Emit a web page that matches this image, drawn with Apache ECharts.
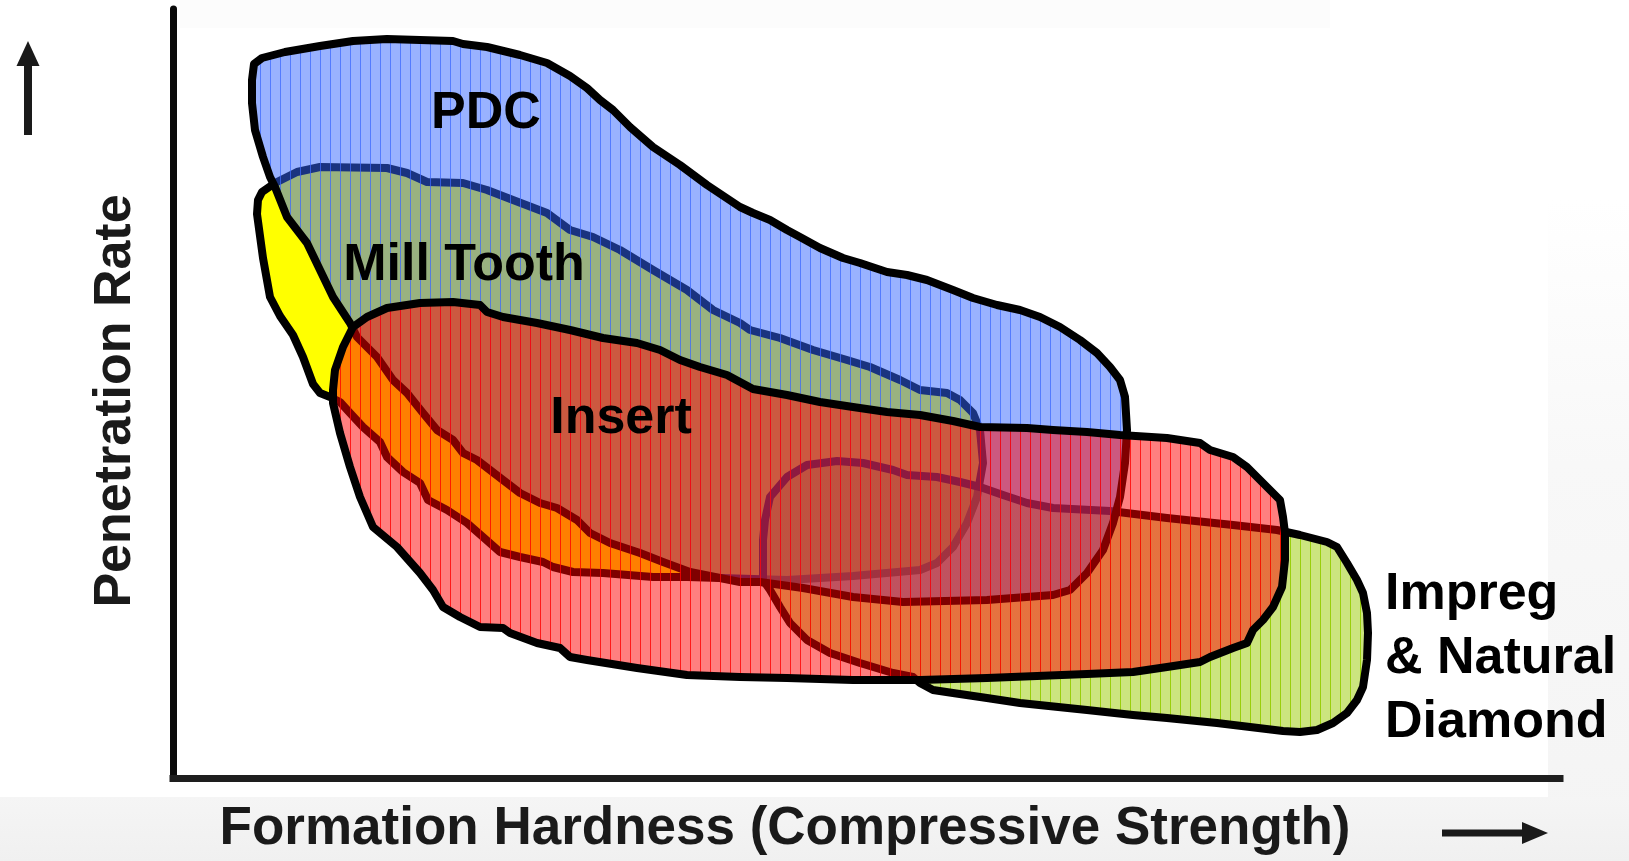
<!DOCTYPE html>
<html>
<head>
<meta charset="utf-8">
<title>Bit Type Selection: Penetration Rate vs Formation Hardness</title>
<script src="https://cdn.jsdelivr.net/npm/echarts@6/dist/echarts.min.js"></script>
<style>
  html, body { margin: 0; padding: 0; background: #ffffff; }
  #chart { width: 1629px; height: 861px; }
</style>
</head>
<body>
<div id="chart"></div>
<script>
// Operating envelopes of each bit family, as [hardness, penetration rate] outline points
// (arbitrary relative units: hardness 0..138.7, rate 0..76.9).
const millToothOutline = [
  [8.9,58.6],[10.2,59.5],[12.4,60.6],[14.7,61.1],[21.4,61.0],[23.4,60.5],[25.4,59.6],[29.0,59.5],
  [31.4,58.8],[34.0,57.8],[37.4,56.5],[39.7,54.8],[42.0,54.1],[44.7,52.8],[48.0,50.8],[51.4,48.8],
  [54.0,46.8],[56.7,45.5],[57.7,44.8],[60.7,44.0],[64.0,42.8],[67.4,41.8],[69.7,41.1],[72.7,39.8],
  [74.7,38.8],[77.4,38.5],[78.7,37.8],[80.0,36.5],[80.7,34.8],[81.0,31.5],[80.4,28.1],[79.4,25.5],
  [78.0,23.1],[76.4,21.5],[74.7,20.8],[68.0,20.2],[61.4,19.8],[54.7,20.0],[51.4,20.1],[48.0,20.1],
  [43.0,20.5],[40.0,20.6],[38.0,21.1],[37.0,21.6],[34.7,22.1],[32.7,22.6],[31.0,24.1],[29.4,25.5],
  [27.4,26.8],[25.5,27.8],[24.7,29.5],[23.0,30.6],[21.4,32.1],[20.7,33.6],[19.0,35.1],[17.7,36.5],
  [16.7,37.6],[15.7,38.1],[14.7,38.5],[14.0,39.4],[13.0,42.1],[12.0,44.3],[10.7,46.2],[9.7,48.1],
  [9.0,52.0],[8.4,56.4],[8.5,57.8]
];

const impregOutline = [
  [59.0,19.8],[59.0,23.8],[59.2,25.8],[59.7,28.1],[61.4,30.1],[63.4,31.3],[66.4,31.7],[69.0,31.5],
  [72.0,30.8],[73.4,30.3],[76.4,30.1],[78.7,29.6],[80.7,29.1],[83.0,28.3],[85.4,27.5],[88.0,27.0],
  [93.7,26.7],[99.4,26.0],[106.0,25.3],[110.4,24.8],[112.7,24.3],[115.4,23.6],[116.4,23.1],[117.4,21.5],
  [118.4,19.8],[119.0,18.5],[119.4,16.5],[119.5,14.5],[119.4,11.8],[119.0,9.1],[118.4,7.8],[117.4,6.5],
  [116.0,5.5],[114.4,4.8],[112.7,4.6],[111.0,4.7],[107.7,5.1],[104.4,5.5],[99.4,6.0],[96.0,6.3],
  [91.4,6.8],[84.7,7.5],[81.4,8.0],[78.0,8.5],[76.0,8.8],[74.7,9.5],[74.0,10.1],[72.0,10.5],
  [68.7,11.5],[65.7,12.5],[63.4,13.8],[61.7,15.5],[60.7,17.1],[59.7,18.8]
];

const pdcOutline = [
  [8.1,71.4],[8.9,72.0],[11.2,72.6],[14.7,73.2],[18.0,73.7],[21.4,73.9],[24.7,73.8],[28.0,73.7],
  [29.0,73.4],[31.4,73.1],[34.7,72.3],[37.4,71.5],[39.7,70.2],[41.4,69.0],[42.7,67.8],[44.0,66.8],
  [45.7,65.1],[48.0,63.1],[50.7,61.3],[53.4,59.3],[56.7,57.1],[58.0,56.5],[59.7,55.8],[61.4,54.8],
  [62.7,54.1],[64.7,53.0],[67.0,52.0],[68.7,51.5],[71.4,50.6],[73.4,50.3],[75.4,49.8],[78.0,48.8],
  [80.0,48.0],[82.4,47.3],[84.7,46.8],[86.7,46.1],[88.7,45.1],[90.7,43.8],[92.4,42.5],[93.7,41.1],
  [94.7,39.8],[95.2,38.1],[95.4,34.8],[95.2,31.5],[94.7,28.1],[94.0,25.5],[93.0,22.8],[91.4,20.5],
  [89.7,18.8],[88.0,18.3],[81.4,17.8],[73.0,17.6],[68.0,18.1],[63.0,19.0],[58.7,19.6],[56.7,19.6],
  [54.7,20.0],[51.7,20.6],[49.0,21.6],[46.7,22.5],[43.7,23.5],[41.7,24.5],[40.4,25.8],[38.4,27.0],
  [36.7,27.5],[34.7,28.5],[33.0,29.8],[30.4,31.8],[29.0,32.5],[28.0,33.8],[26.4,34.8],[25.0,36.5],
  [23.4,38.5],[22.0,39.8],[20.4,42.1],[18.4,44.1],[17.7,45.5],[16.0,48.1],[14.7,50.8],[13.4,53.5],
  [11.4,56.1],[10.2,59.1],[9.7,60.1],[9.0,62.1],[8.2,64.8],[7.9,67.5],[7.9,69.8]
];

const insertOutline = [
  [16.0,38.8],[16.2,40.8],[17.0,43.1],[18.0,45.1],[19.4,46.1],[21.4,47.0],[24.7,47.5],[28.0,47.6],
  [30.7,47.3],[31.4,46.6],[33.0,46.1],[36.4,45.5],[39.7,44.8],[43.0,44.0],[46.4,43.5],[48.7,42.8],
  [50.7,41.8],[52.7,41.1],[55.4,40.3],[58.0,38.9],[61.4,38.3],[64.7,37.6],[68.0,37.1],[71.4,36.6],
  [74.7,36.3],[78.0,35.7],[80.7,35.1],[85.4,35.0],[88.0,34.8],[91.4,34.6],[94.7,34.3],[99.4,34.0],
  [102.7,33.5],[103.7,32.8],[106.0,32.1],[107.4,31.1],[108.7,29.8],[109.4,29.1],[110.7,27.8],[111.0,26.1],
  [111.2,24.5],[111.2,21.8],[110.9,19.1],[110.0,17.1],[109.0,15.8],[108.0,14.8],[107.4,13.5],[106.0,13.0],
  [103.7,12.1],[102.7,11.6],[99.4,11.1],[96.0,10.6],[91.4,10.4],[81.4,10.0],[74.7,9.8],[68.0,9.8],
  [61.4,10.0],[56.7,10.1],[51.4,10.3],[46.4,11.0],[41.4,11.8],[39.7,12.1],[38.7,13.0],[36.4,13.5],
  [33.7,14.5],[33.0,15.0],[30.7,15.1],[28.7,16.1],[27.0,17.1],[26.0,18.8],[24.7,20.5],[22.4,23.1],
  [20.0,25.1],[18.7,28.1],[17.7,31.1],[16.7,34.5],[16.0,37.5]
];

// Region labels
const labelNames    = ['PDC', 'Mill Tooth', 'Insert', 'Impreg\n& Natural\nDiamond'];
const labelHardness = [31.3, 29.1, 44.8, 121.2];
const labelRate     = [66.4, 51.2, 35.9, 11.9];
const labelAlign    = ['center', 'center', 'center', 'left'];

const FONT = '"Liberation Sans", Arial, Helvetica, sans-serif';

// Semi-transparent fill with thin vertical hatch lines
function hatch(fill, stripe) {
  const c = document.createElement('canvas');
  c.width = 10; c.height = 10;
  const g = c.getContext('2d');
  g.fillStyle = fill;
  g.fillRect(0, 0, 10, 10);
  g.fillStyle = stripe;
  g.fillRect(0, 0, 1, 10);
  return { image: c, repeat: 'repeat' };
}

function envelope(name, outline, fill, z) {
  return {
    type: 'custom',
    name: name,
    coordinateSystem: 'cartesian2d',
    z: z,
    silent: true,
    data: outline,
    encode: { x: 0, y: 1 },
    renderItem: function (params, api) {
      if (params.dataIndex !== 0) return null;
      const pts = outline.map(function (p) { return api.coord(p); });
      return {
        type: 'polygon',
        shape: { points: pts },
        style: { fill: fill, stroke: '#000000', lineWidth: 8, lineJoin: 'round' }
      };
    }
  };
}

const chart = echarts.init(document.getElementById('chart'), null, { renderer: 'canvas' });

const option = {
  backgroundColor: '#ffffff',
  animation: false,
  grid: { left: 173, top: 9, width: 1387, height: 769, containLabel: false },
  xAxis: {
    type: 'value', min: 0, max: 138.7,
    axisLine: { show: true, lineStyle: { color: '#1e1e1e', width: 7, cap: 'square' } },
    axisTick: { show: false }, axisLabel: { show: false }, splitLine: { show: false }
  },
  yAxis: {
    type: 'value', min: 0, max: 76.9,
    axisLine: { show: true, lineStyle: { color: '#0a0a0a', width: 7 } },
    axisTick: { show: false }, axisLabel: { show: false }, splitLine: { show: false }
  },
  graphic: [
    // soft background bands
    { type: 'rect', z: -10, shape: { x: 180, y: 0, width: 1150, height: 28 }, style: { fill: '#fcfcfc' } },
    { type: 'rect', z: -10, shape: { x: 1548, y: 200, width: 81, height: 661 },
      style: { fill: new echarts.graphic.LinearGradient(0, 0, 0, 1, [
        { offset: 0, color: '#ffffff' }, { offset: 0.4, color: '#f8f8f8' }, { offset: 1, color: '#f4f4f4' }]) } },
    { type: 'rect', z: -10, shape: { x: 0, y: 797, width: 1629, height: 64 },
      style: { fill: new echarts.graphic.LinearGradient(0, 0, 0, 1, [
        { offset: 0, color: '#f5f5f5' }, { offset: 1, color: '#f0f0f0' }]) } },
    // axis titles
    { type: 'text', z: 20, x: 785, y: 829,
      style: { text: 'Formation Hardness (Compressive Strength)', font: 'bold 53px ' + FONT,
               fill: '#1a1a1a', align: 'center', verticalAlign: 'middle',
               textAlign: 'center', textVerticalAlign: 'middle' } },
    { type: 'text', z: 20, x: 116, y: 401, rotation: Math.PI / 2,
      style: { text: 'Penetration Rate', font: 'bold 52px ' + FONT,
               fill: '#1a1a1a', align: 'center', verticalAlign: 'middle',
               textAlign: 'center', textVerticalAlign: 'middle' } },
    // direction arrows
    { type: 'rect', z: 20, shape: { x: 24, y: 62, width: 8, height: 73 }, style: { fill: '#1a1a1a' } },
    { type: 'polygon', z: 20, shape: { points: [[28, 41], [16.5, 66], [39.5, 66]] }, style: { fill: '#1a1a1a' } },
    { type: 'rect', z: 20, shape: { x: 1442, y: 829.5, width: 82, height: 7 }, style: { fill: '#1a1a1a' } },
    { type: 'polygon', z: 20, shape: { points: [[1548, 833], [1522, 822], [1522, 844]] }, style: { fill: '#1a1a1a' } }
  ],
  series: [
    envelope('Mill Tooth', millToothOutline, '#ffff00', 2),
    envelope('Impreg & Natural Diamond', impregOutline,
             hatch('rgba(153,204,0,0.5)', 'rgba(150,205,0,0.9)'), 3),
    envelope('PDC', pdcOutline,
             hatch('rgba(51,102,255,0.5)', 'rgba(60,105,255,0.75)'), 4),
    envelope('Insert', insertOutline,
             hatch('rgba(255,0,0,0.5)', 'rgba(255,0,0,0.8)'), 5),
    {
      type: 'custom',
      name: 'labels',
      coordinateSystem: 'cartesian2d',
      z: 6,
      silent: true,
      data: labelHardness.map(function (h, i) { return [h, labelRate[i]]; }),
      encode: { x: 0, y: 1 },
      renderItem: function (params, api) {
        const i = params.dataIndex;
        const p = api.coord([api.value(0), api.value(1)]);
        return {
          type: 'text',
          x: p[0], y: p[1],
          style: {
            text: labelNames[i],
            font: 'bold 52px ' + FONT,
            fill: '#000000',
            align: labelAlign[i], verticalAlign: 'middle',
            textAlign: labelAlign[i], textVerticalAlign: 'middle',
            lineHeight: 64
          }
        };
      }
    }
  ]
};

chart.setOption(option);
</script>
</body>
</html>
